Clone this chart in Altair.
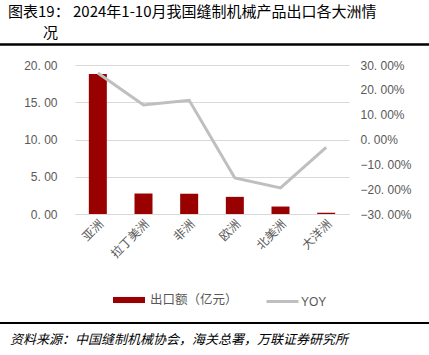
import altair as alt
import pandas as pd

# ---- data ----
regions = ["亚洲", "拉丁美洲", "非洲", "欧洲", "北美洲", "大洋洲"]
export_value = [18.8, 2.75, 2.72, 2.3, 1.0, 0.17]   # 出口额（亿元）
yoy = [0.268, 0.139, 0.158, -0.155, -0.195, -0.032]  # YOY

title_line1 = "图表19：  2024年1-10月我国缝制机械产品出口各大洲情"
title_line2 = "况"
source_text = "资料来源：中国缝制机械协会，海关总署，万联证券研究所"
bar_name = "出口额（亿元）"
line_name = "YOY"

df = pd.DataFrame({
    "region": regions,
    "value": export_value,
    "yoy": yoy,
    "bar_series": [bar_name] * len(regions),
    "line_series": [line_name] * len(regions),
})

W, H = 274, 149
LEFT, TOP = 75, 65
FONT = "Noto Sans CJK SC"
GRAY = "#595959"

x_enc = alt.X(
    "region:N", sort=regions,
    scale=alt.Scale(paddingInner=0, paddingOuter=0),
    axis=alt.Axis(title=None, labelAngle=-45, labelFontSize=12, labelColor=GRAY,
                  labelFont=FONT, ticks=False, domainColor="#D9D9D9", labelPadding=4),
)

bars = alt.Chart(df).mark_bar(size=18).encode(
    x=x_enc,
    y=alt.Y("value:Q", scale=alt.Scale(domain=[0, 20], nice=False),
            axis=alt.Axis(title=None, values=[0, 5, 10, 15, 20], grid=True,
                          gridColor="#D9D9D9", domain=False, ticks=False,
                          labelFontSize=12, labelColor=GRAY, labelFont="Liberation Sans",
                          labelPadding=18,
                          labelExpr="replace(format(datum.value, '.2f'), '.', '. ')")),
    fill=alt.Fill("bar_series:N", scale=alt.Scale(domain=[bar_name], range=["#990000"]),
                  legend=alt.Legend(title=None, orient="none", legendX=38, legendY=219,
                                    padding=0, symbolType="M-1,-0.19H1V0.19H-1Z",
                                    symbolSize=1024, symbolStrokeWidth=0,
                                    labelFontSize=12.5, labelColor=GRAY, labelFont=FONT,
                                    labelOffset=5)),
)

line = alt.Chart(df).mark_line(strokeWidth=3).encode(
    x=alt.X("region:N", sort=regions),
    y=alt.Y("yoy:Q", scale=alt.Scale(domain=[-0.3, 0.3], nice=False),
            axis=alt.Axis(title=None, orient="right",
                          values=[-0.3, -0.2, -0.1, 0, 0.1, 0.2, 0.3], grid=False,
                          domain=False, ticks=False, labelFontSize=12, labelColor=GRAY,
                          labelFont="Liberation Sans", labelPadding=11,
                          labelExpr="replace(format(datum.value, '.2%'), '.', '. ')")),
    stroke=alt.Stroke("line_series:N", scale=alt.Scale(domain=[line_name], range=["#BFBFBF"]),
                      legend=alt.Legend(title=None, orient="none", legendX=190, legendY=219,
                                        padding=0, symbolType="stroke", symbolSize=1024,
                                        symbolStrokeWidth=3, labelFontSize=12,
                                        labelColor=GRAY, labelFont="Liberation Sans",
                                        labelOffset=1)),
)

main = alt.layer(bars, line).resolve_scale(y="independent", fill="independent",
                                           stroke="independent")

# ---- decorations (title, source, rules) ----
t1 = alt.Chart(pd.DataFrame({"t": [title_line1]})).mark_text(
    align="left", baseline="middle", fontSize=15, font=FONT, color="#000000"
).encode(x=alt.value(8 - LEFT), y=alt.value(12 - TOP), text="t:N")

t2 = alt.Chart(pd.DataFrame({"t": [title_line2]})).mark_text(
    align="left", baseline="middle", fontSize=15, font=FONT, color="#000000"
).encode(x=alt.value(43 - LEFT), y=alt.value(33 - TOP), text="t:N")

src = alt.Chart(pd.DataFrame({"t": [source_text]})).mark_text(
    align="left", baseline="middle", fontSize=13, font=FONT, fontStyle="italic",
    color="#000000"
).encode(x=alt.value(10 - LEFT), y=alt.value(340 - TOP), text="t:N")

rule_top = alt.Chart(pd.DataFrame({"a": [0]})).mark_rule(color="#000000", strokeWidth=2.5).encode(
    x=alt.value(0 - LEFT), x2=alt.value(429 - LEFT), y=alt.value(44.5 - TOP))
rule_bot = alt.Chart(pd.DataFrame({"a": [0]})).mark_rule(color="#000000", strokeWidth=2).encode(
    x=alt.value(0 - LEFT), x2=alt.value(429 - LEFT), y=alt.value(323 - TOP))

chart = alt.layer(main, t1, t2, src, rule_top, rule_bot).properties(
    width=W, height=H,
    autosize=alt.AutoSizeParams(type="none"),
    padding={"left": LEFT, "top": TOP, "right": 429 - LEFT - W, "bottom": 355 - TOP - H},
    background="#ffffff",
).configure_view(stroke=None)

chart.save("out.html", embed_options={"renderer": "svg", "actions": False})
